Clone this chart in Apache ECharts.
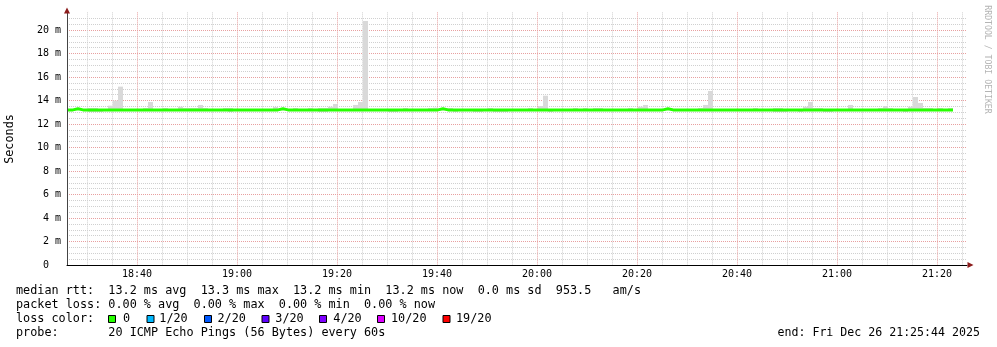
<!DOCTYPE html>
<html><head><meta charset="utf-8">
<script src="https://cdn.jsdelivr.net/npm/echarts@6/dist/echarts.min.js"></script>
<style>html,body{margin:0;padding:0;background:#fff}#c{width:997px;height:347px}</style>
</head><body><div id="c"></div>
<script>
// ---------------- data ----------------
const axisStart = '18:26';
const axisEnd = '21:26';
const firstSampleStart = '18:26:12';
const xTickLabels = ['18:40','19:00','19:20','19:40','20:00','20:20','20:40','21:00','21:20'];
const yTickValues = [0,2,4,6,8,10,12,14,16,18,20];
const yTickLabels = ['0  ','2 m','4 m','6 m','8 m','10 m','12 m','14 m','16 m','18 m','20 m'];

// median RTT per minute (ms)
const medianRtt = [
13.2,13.29,13.2,13.2,13.2,13.2,13.2,13.2,13.2,13.2,13.2,13.2,13.2,13.2,13.2,13.2,13.2,13.2,13.2,13.2,
13.2,13.2,13.2,13.2,13.2,13.2,13.2,13.2,13.2,13.2,13.2,13.2,13.2,13.2,13.2,13.2,13.2,13.2,13.2,13.2,
13.2,13.2,13.29,13.2,13.2,13.2,13.2,13.2,13.2,13.2,13.2,13.2,13.2,13.2,13.2,13.2,13.2,13.2,13.2,13.2,
13.2,13.2,13.2,13.2,13.2,13.2,13.2,13.2,13.2,13.2,13.2,13.2,13.2,13.2,13.29,13.2,13.2,13.2,13.2,13.2,
13.2,13.2,13.2,13.2,13.2,13.2,13.2,13.2,13.2,13.2,13.2,13.2,13.2,13.2,13.2,13.2,13.2,13.2,13.2,13.2,
13.2,13.2,13.2,13.2,13.2,13.2,13.2,13.2,13.2,13.2,13.2,13.2,13.2,13.2,13.2,13.2,13.2,13.2,13.2,13.29,
13.2,13.2,13.2,13.2,13.2,13.2,13.2,13.2,13.2,13.2,13.2,13.2,13.2,13.2,13.2,13.2,13.2,13.2,13.2,13.2,
13.2,13.2,13.2,13.2,13.2,13.2,13.2,13.2,13.2,13.2,13.2,13.2,13.2,13.2,13.2,13.2,13.2,13.2,13.2,13.2,
13.2,13.2,13.2,13.2,13.2,13.2,13.2,13.2,13.2,13.2,13.2,13.2,13.2,13.2,13.2,13.2,13.2
];
// smoke: lowest and highest ping per minute (ms)
const smokeLow = [
13.2,13.2,13.2,13.2,13.02,13.02,13.02,13.2,13.2,13.2,13.2,13.2,13.2,13.2,13.2,13.2,13.2,13.2,13.2,13.2,
13.2,13.2,13.2,13.2,13.2,13.2,13.2,13.2,13.2,13.2,13.2,13.2,13.02,13.2,13.2,13.2,13.2,13.2,13.2,13.2,
13.2,13.2,13.2,13.2,13.2,13.2,13.2,13.2,13.2,13.2,13.02,13.02,13.2,13.2,13.2,13.2,13.2,13.2,13.2,13.2,
13.2,13.2,13.2,13.2,13.02,13.02,13.2,13.2,13.2,13.2,13.2,13.2,13.2,13.2,13.2,13.2,13.2,13.02,13.2,13.2,
13.2,13.02,13.02,13.2,13.2,13.02,13.02,13.02,13.2,13.2,13.2,13.2,13.2,13.2,13.2,13.2,13.02,13.2,13.2,13.2,
13.2,13.2,13.2,13.2,13.2,13.2,13.2,13.2,13.2,13.2,13.2,13.2,13.2,13.2,13.2,13.2,13.2,13.2,13.2,13.2,
13.2,13.2,13.2,13.2,13.2,13.2,13.2,13.2,13.2,13.2,13.2,13.2,13.2,13.2,13.2,13.2,13.2,13.2,13.2,13.2,
13.2,13.02,13.02,13.02,13.2,13.2,13.02,13.2,13.2,13.2,13.2,13.02,13.02,13.2,13.2,13.2,13.2,13.2,13.2,13.2,
13.2,13.2,13.2,13.2,13.2,13.2,13.2,13.02,13.2,13.2,13.2,13.2,13.2,13.2,13.2,13.2,13.2
];
const smokeHigh = [
13.2,13.2,13.2,13.2,13.36,13.36,13.2,13.2,13.56,13.99,15.18,13.2,13.2,13.2,13.2,13.36,13.87,13.2,13.2,13.36,
13.2,13.2,13.47,13.36,13.36,13.36,13.62,13.36,13.2,13.2,13.2,13.36,13.36,13.2,13.2,13.2,13.2,13.2,13.2,13.2,
13.2,13.45,13.2,13.2,13.2,13.36,13.2,13.2,13.36,13.2,13.36,13.36,13.47,13.7,13.2,13.2,13.2,13.62,13.87,20.77,
13.2,13.2,13.2,13.2,13.2,13.2,13.2,13.36,13.2,13.2,13.2,13.2,13.36,13.39,13.2,13.36,13.36,13.2,13.2,13.2,
13.2,13.2,13.2,13.2,13.36,13.2,13.2,13.2,13.2,13.2,13.2,13.2,13.36,13.2,13.53,14.41,13.2,13.2,13.2,13.2,
13.2,13.36,13.2,13.36,13.2,13.36,13.36,13.2,13.2,13.2,13.2,13.2,13.36,13.2,13.47,13.62,13.2,13.2,13.2,13.2,
13.36,13.2,13.2,13.2,13.2,13.2,13.36,13.62,14.81,13.2,13.2,13.2,13.2,13.2,13.2,13.2,13.2,13.36,13.2,13.2,
13.2,13.36,13.36,13.2,13.2,13.2,13.2,13.47,13.87,13.36,13.36,13.2,13.2,13.2,13.2,13.2,13.62,13.2,13.2,13.2,
13.2,13.2,13.36,13.53,13.36,13.2,13.2,13.2,13.47,14.3,13.79,13.36,13.36,13.2,13.36,13.2,13.36
];

const summaryLines = [
  'median rtt:  13.2 ms avg  13.3 ms max  13.2 ms min  13.2 ms now  0.0 ms sd  953.5   am/s',
  'packet loss: 0.00 % avg  0.00 % max  0.00 % min  0.00 % now',
  'loss color:',
  'probe:       20 ICMP Echo Pings (56 Bytes) every 60s'
];
const endText = 'end: Fri Dec 26 21:25:44 2025';
const lossLabels = ['0','1/20','2/20','3/20','4/20','10/20','19/20'];
const lossColors = ['#26ff00','#00b8ff','#0059ff','#5e00ff','#7e00ff','#dd00ff','#ff0000'];
const yAxisTitle = 'Seconds';
const watermark = 'RRDTOOL / TOBI OETIKER';

// ---------------- layout / style ----------------
const MONO = '"DejaVu Sans Mono", monospace';
const legendFont = '11.8px ' + MONO;
const lossSquareX = [108.5, 147, 204.5, 262, 319.5, 377.5, 443];
const lossTextX = [123, 159.3, 217.5, 275.3, 333.3, 391, 456];
const lineY = [291, 305, 319, 333];

function toMin(s){const p=s.split(':').map(Number);return p[0]*60+p[1]+(p[2]||0)/60;}
function fmt(m){const h=Math.floor(m/60), mm=Math.round(m-h*60);return String(h).padStart(2,'0')+':'+String(mm).padStart(2,'0');}

const xMin = toMin(axisStart), xMax = toMin(axisEnd), t0 = toMin(firstSampleStart);
const minuteCats = [];
for (let m = xMin; m <= xMax; m++) minuteCats.push(fmt(m));
const isMajor = (i, v) => xTickLabels.indexOf(minuteCats[i]) >= 0;
const isMinor = (i, v) => { const m = xMin + i; return m % 5 === 0 && xTickLabels.indexOf(minuteCats[i]) < 0; };

const smokeData = smokeHigh.map((h, i) => [t0 + i, smokeLow[i], h]);
const lineData = medianRtt.map((v, i) => [t0 + i, v]);
lineData.push([t0 + medianRtt.length, medianRtt[medianRtt.length - 1]]);

const gridMinor = '#d0d0d0', gridMajor = '#e8a0a0', arrowColor = '#8c1c1c';

const graphics = [];
summaryLines.forEach((s, k) => graphics.push({type:'text', x:16, y:lineY[k], silent:true,
  style:{text:s, font:legendFont, fill:'#000', align:'left', textAlign:'left', verticalAlign:'middle', textVerticalAlign:'middle'}}));
graphics.push({type:'text', x:777.5, y:lineY[3], silent:true,
  style:{text:endText, font:'11.6px ' + MONO, fill:'#000', align:'left', textAlign:'left', verticalAlign:'middle', textVerticalAlign:'middle'}});
lossLabels.forEach((l, k) => {
  graphics.push({type:'rect', shape:{x:lossSquareX[k], y:315.5, width:7, height:7}, silent:true,
    style:{fill:lossColors[k], stroke:'#000', lineWidth:1}});
  graphics.push({type:'text', x:lossTextX[k], y:lineY[2], silent:true,
    style:{text:l, font:legendFont, fill:'#000', align:'left', textAlign:'left', verticalAlign:'middle', textVerticalAlign:'middle'}});
});
graphics.push({type:'text', x:10, y:139, rotation:Math.PI/2, silent:true,
  style:{text:yAxisTitle, font:legendFont, fill:'#000', align:'center', textAlign:'center', verticalAlign:'middle', textVerticalAlign:'middle'}});
graphics.push({type:'text', x:987, y:59.5, rotation:-Math.PI/2, silent:true,
  style:{text:watermark, font:'8.2px ' + MONO, fill:'#b4b4b4', align:'center', textAlign:'center', verticalAlign:'middle', textVerticalAlign:'middle'}});

const chart = echarts.init(document.getElementById('c'), null, {renderer:'canvas'});
chart.setOption({
  animation:false,
  backgroundColor:'#fff',
  grid:{left:67, right:30, top:12.375, bottom:82, outerBoundsMode:'none', containLabel:false},
  xAxis:[
    {type:'value', min:xMin, max:xMax, show:false, position:'bottom'},
    {type:'category', data:minuteCats, boundaryGap:false, position:'bottom',
      axisLine:{show:true, onZero:false, symbol:['none','triangle'], symbolSize:[6,6], symbolOffset:[0,3.5], lineStyle:{color:arrowColor, width:0}},
      axisTick:{show:false}, axisLabel:{show:false},
      splitLine:{show:true, interval:isMinor, lineStyle:{color:gridMinor, width:1, type:[1,1]}}},
    {type:'category', data:minuteCats, boundaryGap:false, position:'bottom',
      axisLine:{show:true, onZero:false, lineStyle:{color:'#000', width:1}},
      axisTick:{show:false},
      axisLabel:{show:true, interval:isMajor, color:'#000', fontFamily:MONO, fontSize:10, margin:4},
      splitLine:{show:true, interval:isMajor, lineStyle:{color:gridMajor, width:1, type:[1,1]}}}
  ],
  yAxis:[
    {type:'value', min:0, max:21.5, interval:0.5, position:'left',
      axisLine:{show:true, onZero:false, lineStyle:{color:'#444', width:1}},
      axisTick:{show:false}, axisLabel:{show:false},
      splitLine:{show:true, showMinLine:false, showMaxLine:false, lineStyle:{color:gridMinor, width:1, type:[1,1]}}},
    {type:'value', min:0, max:21.5, interval:2, position:'left',
      axisLine:{show:true, onZero:false, symbol:['none','triangle'], symbolSize:[6,6], symbolOffset:[0,2], lineStyle:{color:arrowColor, width:0}},
      axisTick:{show:false},
      axisLabel:{show:true, showMaxLabel:false, color:'#000', fontFamily:MONO, fontSize:10, margin:6,
        formatter:(v) => { const k = yTickValues.indexOf(v); return k >= 0 ? yTickLabels[k] : ''; }},
      splitLine:{show:true, showMinLine:false, showMaxLine:false, lineStyle:{color:gridMajor, width:1, type:[1,1]}}}
  ],
  series:[
    {type:'custom', name:'smoke', xAxisIndex:0, yAxisIndex:0, silent:true, z:2,
      encode:{x:0, y:[1,2]},
      data:smokeData,
      renderItem:(params, api) => {
        const t = api.value(0), lo = api.value(1), hi = api.value(2);
        const p0 = api.coord([t, hi]), p1 = api.coord([t + 1, lo]);
        return {type:'rect', shape:{x:p0[0], y:p0[1], width:p1[0]-p0[0], height:p1[1]-p0[1]}, style:{fill:'#d9d9d9'}};
      }},
    {type:'line', name:'median rtt', xAxisIndex:0, yAxisIndex:0, data:lineData, step:'end', symbol:'none', silent:true, z:3,
      lineStyle:{color:lossColors[0], width:3}}
  ],
  graphic:{elements:graphics}
});
</script></body></html>
